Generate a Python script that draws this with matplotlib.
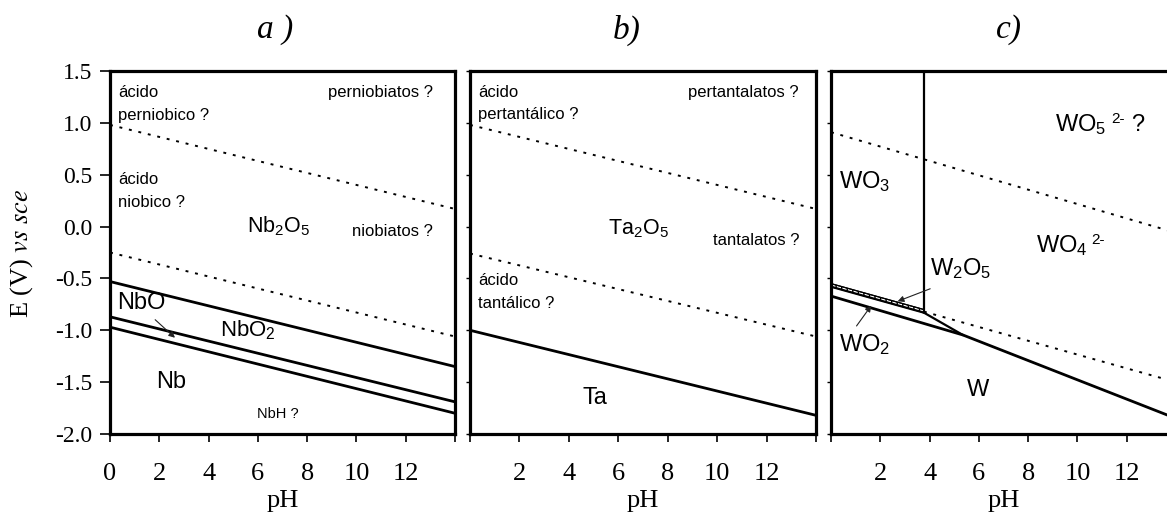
import matplotlib
matplotlib.use('Agg')
import matplotlib.pyplot as plt

plt.rcParams['mathtext.fontset'] = 'custom'
plt.rcParams['mathtext.rm'] = 'Liberation Sans'
plt.rcParams['mathtext.it'] = 'Liberation Sans:italic'
plt.rcParams['mathtext.default'] = 'regular'

# pH span used for the straight boundaries
ph_span = [0, 14]

# panel a (Nb)
a_dot_top = [0.98, 0.17]
a_dot_low = [-0.25, -1.06]
a_nbo2 = [-0.53, -1.35]
a_nbo = [-0.87, -1.69]
a_nb = [-0.97, -1.80]

# panel b (Ta)
b_dot_top = [0.98, 0.17]
b_dot_low = [-0.26, -1.06]
b_ta = [-1.00, -1.82]

# panel c (W)
c_dot_top_E = [0.91, -0.06]
c_vert_ph = [3.77, 3.77]
c_vert_E = [1.5, -0.81]
c_band_ph = [0, 3.77]
c_band_up = [-0.55, -0.80]
c_band_lo = [-0.58, -0.83]
c_dot_low_ph = [3.77, 14]
c_dot_low_E = [-0.82, -1.50]
c_wo2_ph = [3.77, 5.35]
c_wo2_E = [-0.83, -1.045]
c_w_ph = [0, 5.35, 14]
c_w_E = [-0.67, -1.045, -1.85]

yticks = [1.5, 1.0, 0.5, 0.0, -0.5, -1.0, -1.5, -2.0]
xticks = [0, 2, 4, 6, 8, 10, 12, 14]

W, H = 1167, 519
fig = plt.figure(figsize=(W / 100, H / 100), dpi=100)

def px_axes(x0, x1, y0, y1):
    return fig.add_axes([x0 / W, (H - y1) / H, (x1 - x0) / W, (y1 - y0) / H])

axa = px_axes(110, 455, 71, 434)
axb = px_axes(470, 816, 71, 434)
axc = px_axes(831, 1176, 71, 434)

serif = 'Liberation Serif'
sans = 'Liberation Sans'
dots = (0, (1.5, 3.5))

for i, ax in enumerate([axa, axb, axc]):
    ax.set_xlim(0, 14)
    ax.set_ylim(-2.0, 1.5)
    for s in ax.spines.values():
        s.set_linewidth(2.3)
    ax.set_xticks(xticks)
    labs = [str(t) for t in xticks]
    labs[-1] = ''
    if i > 0:
        labs[0] = ''
    ax.set_xticklabels(labs, fontfamily=serif, fontsize=19)
    ax.tick_params(axis='x', direction='out', length=6, width=1.2, pad=15)
    ax.set_yticks(yticks)
    if i == 0:
        ax.set_yticklabels(['%.1f' % t for t in yticks], fontfamily=serif, fontsize=17)
        ax.tick_params(axis='y', direction='out', length=7, width=1.2, pad=6)
    else:
        ax.set_yticklabels([])
        ax.tick_params(axis='y', direction='out', length=3, width=1.0)
    ax.text(0.5, -0.185, 'pH', transform=ax.transAxes, ha='center', va='center',
            fontfamily=serif, fontsize=19)

# ---- panel a
axa.plot(ph_span, a_dot_top, color='black', lw=1.4, ls=dots)
axa.plot(ph_span, a_dot_low, color='black', lw=1.4, ls=dots)
for e in (a_nbo2, a_nbo, a_nb):
    axa.plot(ph_span, e, color='black', lw=2.0)

small = dict(fontfamily=sans, fontsize=12, va='center')
axa.text(0.33, 1.29, 'ácido', ha='left', **small)
axa.text(0.33, 1.07, 'perniobico ?', ha='left', **small)
axa.text(13.1, 1.29, 'perniobiatos ?', ha='right', **small)
axa.text(0.33, 0.45, 'ácido', ha='left', **small)
axa.text(0.33, 0.23, 'niobico ?', ha='left', **small)
axa.text(13.1, -0.05, 'niobiatos ?', ha='right', **small)
axa.text(6.8, -1.81, 'NbH ?', ha='center', fontfamily=sans, fontsize=10.5, va='center')
axa.text(6.85, 0.0, 'Nb$_2$O$_5$', ha='center', va='center', fontfamily=sans, fontsize=15.5)
axa.text(1.27, -0.74, 'NbO', ha='center', va='center', fontfamily=sans, fontsize=17)
axa.text(5.6, -1.0, 'NbO$_2$', ha='center', va='center', fontfamily=sans, fontsize=16)
axa.text(2.48, -1.50, 'Nb', ha='center', va='center', fontfamily=sans, fontsize=17)
axa.annotate('', xy=(2.72, -1.09), xytext=(1.75, -0.88),
             arrowprops=dict(arrowstyle='-|>', color='#222', lw=0.8, mutation_scale=9))

# ---- panel b
axb.plot(ph_span, b_dot_top, color='black', lw=1.4, ls=dots)
axb.plot(ph_span, b_dot_low, color='black', lw=1.4, ls=dots)
axb.plot(ph_span, b_ta, color='black', lw=2.0)
axb.text(0.33, 1.29, 'ácido', ha='left', **small)
axb.text(0.33, 1.08, 'pertantálico ?', ha='left', **small)
axb.text(13.3, 1.29, 'pertantalatos ?', ha='right', **small)
axb.text(13.35, -0.13, 'tantalatos ?', ha='right', **small)
axb.text(0.33, -0.52, 'ácido', ha='left', **small)
axb.text(0.33, -0.74, 'tantálico ?', ha='left', **small)
axb.text(6.8, -0.02, 'Ta$_2$O$_5$', ha='center', va='center', fontfamily=sans, fontsize=15.5)
axb.text(5.06, -1.65, 'Ta', ha='center', va='center', fontfamily=sans, fontsize=17)

# ---- panel c
axc.plot(ph_span, c_dot_top_E, color='black', lw=1.4, ls=dots)
axc.plot(c_dot_low_ph, c_dot_low_E, color='black', lw=1.4, ls=dots)
axc.plot(c_vert_ph, c_vert_E, color='black', lw=1.6)
axc.fill_between(c_band_ph, c_band_lo, c_band_up, facecolor='white', edgecolor='black',
                 hatch='|||', lw=0.8)
axc.plot(c_band_ph, c_band_up, color='black', lw=0.9)
axc.plot(c_band_ph, c_band_lo, color='black', lw=1.6)
axc.plot(c_wo2_ph, c_wo2_E, color='black', lw=1.6)
axc.plot(c_w_ph, c_w_E, color='black', lw=2.0)

big = dict(fontfamily=sans, fontsize=17, va='center')
axc.text(1.38, 0.43, 'WO$_3$', ha='center', **big)
axc.text(9.07, 0.98, 'WO$_5$', ha='left', **big)
axc.annotate('2-', xy=(9.07, 0.98), xytext=(41, 4), textcoords='offset points',
             fontfamily=sans, fontsize=11, va='center', ha='left')
axc.annotate('?', xy=(9.07, 0.98), xytext=(55, 0), textcoords='offset points',
             fontfamily=sans, fontsize=17, va='center', ha='left')
axc.text(8.3, -0.18, 'WO$_4$', ha='left', **big)
axc.annotate('2-', xy=(8.3, -0.18), xytext=(40, 4), textcoords='offset points',
             fontfamily=sans, fontsize=11, va='center', ha='left')
axc.text(5.25, -0.40, 'W$_2$O$_5$', ha='center', **big)
axc.text(1.38, -1.14, 'WO$_2$', ha='center', **big)
axc.text(5.95, -1.58, 'W', ha='center', **big)
axc.annotate('', xy=(2.6, -0.73), xytext=(4.13, -0.59),
             arrowprops=dict(arrowstyle='-|>', color='#222', lw=0.8, mutation_scale=9))
axc.annotate('', xy=(1.7, -0.74), xytext=(0.97, -0.98),
             arrowprops=dict(arrowstyle='-|>', color='#222', lw=0.8, mutation_scale=9))

# titles and y label
for x, t in [(275, 'a )'), (627, 'b)'), (1009, 'c)')]:
    fig.text(x / W, (H - 30) / H, t, ha='center', va='center', fontfamily=serif,
             fontstyle='italic', fontsize=24)

fig.text(22 / W, (H - 253) / H, r'E (V) $\mathit{vs\ sce}$', rotation=90, ha='center',
         va='center', fontfamily=serif, fontsize=19, math_fontfamily='stix')

fig.savefig('out.png', dpi=100)
